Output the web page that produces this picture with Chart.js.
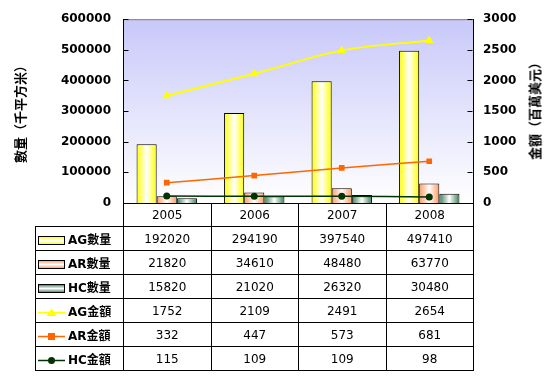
<!DOCTYPE html>
<html>
<head>
<meta charset="utf-8">
<script src="https://cdn.jsdelivr.net/npm/chart.js@4.4.1/dist/chart.umd.min.js"></script>
<style>
  body { margin: 0; background: #fff; }
  #wrap { position: relative; width: 548px; height: 377px; overflow: hidden; }
  #rightTitle {
    position: absolute; left: 534px; top: 108px; white-space: nowrap;
    transform: translate(-50%, -50%) rotate(-90deg);
    font: bold 13px "Noto Sans CJK TC", "DejaVu Sans", sans-serif; color: #000;
  }
  #tbl {
    position: absolute; border-collapse: collapse; table-layout: fixed;
    font-family: "DejaVu Sans", "Noto Sans CJK TC", sans-serif; font-size: 12px; color: #000;
  }
  #tbl td { border: 1px solid #000; padding: 0; text-align: center; vertical-align: middle; white-space: nowrap; }
  #tbl td.lab { text-align: left; padding-left: 2px; font-weight: bold; }
  #tbl td.lab svg { vertical-align: middle; margin-right: 3px; }
  #tbl td.corner { border-top: none; border-left: none; }
</style>
</head>
<body>
<div id="wrap">
  <canvas id="grafico" width="548" height="377"></canvas>
  <div id="rightTitle">金額（百萬美元）</div>
  <table id="tbl"></table>
</div>
<script>
const categorias = ['2005', '2006', '2007', '2008'];

const agCantidad = [192020, 294190, 397540, 497410];
const arCantidad = [21820, 34610, 48480, 63770];
const hcCantidad = [15820, 21020, 26320, 30480];

const agMonto = [1752, 2109, 2491, 2654];
const arMonto = [332, 447, 573, 681];
const hcMonto = [115, 109, 109, 98];

const CAT_PCT = 0.69;

// relleno con degradado horizontal, blanco en el centro de cada barra
const rellenoBarra = (color) => (ctx) => {
  const chart = ctx.chart;
  const x = chart.scales.x;
  if (!x || ctx.type !== 'data') return color;
  const grupo = (x.width / categorias.length) * CAT_PCT;
  const ancho = grupo / 3;
  const izq = x.getPixelForValue(ctx.dataIndex) - grupo / 2 + ancho * ctx.datasetIndex;
  if (!Number.isFinite(izq) || !Number.isFinite(ancho) || ancho <= 0) return color;
  const g = chart.ctx.createLinearGradient(izq, 0, izq + ancho, 0);
  g.addColorStop(0, color);
  g.addColorStop(0.5, '#ffffff');
  g.addColorStop(1, color);
  return g;
};

const fondoPlot = {
  id: 'fondoPlot',
  beforeDraw(chart) {
    const {ctx, chartArea: a} = chart;
    const g = ctx.createLinearGradient(0, a.top, 0, a.bottom);
    g.addColorStop(0, '#c8c8fa');
    g.addColorStop(1, '#ffffff');
    ctx.save();
    ctx.fillStyle = g;
    ctx.fillRect(a.left, a.top, a.right - a.left, a.bottom - a.top);
    ctx.strokeStyle = '#808080';
    ctx.lineWidth = 1;
    ctx.beginPath();
    ctx.moveTo(a.left, a.top + 0.5);
    ctx.lineTo(a.right, a.top + 0.5);
    ctx.stroke();
    ctx.restore();
  },
  afterDraw(chart) {
    // marcas cortas hacia adentro en ambos ejes
    const ctx = chart.ctx;
    ctx.save();
    ctx.strokeStyle = '#000';
    ctx.lineWidth = 1;
    ctx.beginPath();
    for (const id of ['y', 'y1']) {
      const s = chart.scales[id];
      const x0 = id === 'y' ? s.right + 0.5 : s.left - 0.5;
      const dir = id === 'y' ? 1 : -1;
      s.ticks.forEach(t => {
        const py = Math.round(s.getPixelForValue(t.value)) + 0.5;
        ctx.moveTo(x0, py);
        ctx.lineTo(x0 + dir * 5, py);
      });
    }
    ctx.stroke();
    ctx.restore();
  }
};

Chart.defaults.color = '#000';
Chart.defaults.font.family = '"DejaVu Sans", "Noto Sans CJK TC", sans-serif';

const datosBarra = (label, datos, color) => ({
  type: 'bar', label, data: datos, yAxisID: 'y', order: 1,
  backgroundColor: rellenoBarra(color), borderColor: '#000', borderWidth: 1,
  categoryPercentage: CAT_PCT, barPercentage: 1
});

const datosLinea = (label, datos, color, estilo, radio, grosor) => ({
  type: 'line', label, data: datos, yAxisID: 'y1', order: 0,
  borderColor: color, backgroundColor: color, borderWidth: grosor,
  pointStyle: estilo, pointRadius: radio, pointBorderWidth: 0, tension: 0.3
});

const config = {
  data: {
    labels: categorias,
    datasets: [
      datosBarra('AG數量', agCantidad, '#ffff00'),
      datosBarra('AR數量', arCantidad, '#ff9960'),
      datosBarra('HC數量', hcCantidad, '#3c7c5c'),
      datosLinea('AG金額', agMonto, '#ffff00', 'triangle', 5, 2),
      datosLinea('AR金額', arMonto, '#ff6600', 'rect', 4, 1.5),
      datosLinea('HC金額', hcMonto, '#003300', 'circle', 3.5, 1.5)
    ]
  },
  options: {
    responsive: false,
    animation: false,
    devicePixelRatio: 1,
    layout: { padding: { top: 13, bottom: 174, left: 0, right: 0 } },
    plugins: { legend: { display: false }, tooltip: { enabled: false } },
    scales: {
      x: { display: false, offset: true },
      y: {
        position: 'left', min: 0, max: 600000,
        ticks: { stepSize: 100000, padding: 12, callback: v => String(v), font: { size: 12, weight: 'bold' } },
        grid: { display: false, drawTicks: false },
        border: { display: true, color: '#000' },
        title: {
          display: true, text: '數量（千平方米）', padding: { top: 12, bottom: 0 },
          font: { size: 13, weight: 'bold', family: '"Noto Sans CJK TC", sans-serif' }
        },
        afterFit: s => { s.width = 123; }
      },
      y1: {
        position: 'right', min: 0, max: 3000,
        ticks: { stepSize: 500, padding: 10, callback: v => String(v), font: { size: 12, weight: 'bold' } },
        grid: { display: false, drawTicks: false },
        border: { display: true, color: '#000' },
        afterFit: s => { s.width = 75; }
      }
    }
  },
  plugins: [fondoPlot]
};

const grafico = new Chart(document.getElementById('grafico'), config);
grafico.update('none');

// tabla de datos bajo el gráfico
const icono = (tipo, color) => {
  if (tipo === 'bar') {
    return `<svg width="27" height="9"><defs><linearGradient id="g${color.slice(1)}" x1="0" y1="0" x2="0" y2="1">
      <stop offset="0" stop-color="${color}"/><stop offset="0.5" stop-color="#fff"/><stop offset="1" stop-color="${color}"/></linearGradient></defs>
      <rect x="0.5" y="0.5" width="26" height="8" fill="url(#g${color.slice(1)})" stroke="#000"/></svg>`;
  }
  let marca = '';
  if (tipo === 'triangle') marca = `<polygon points="13.5,1.5 18.5,9 8.5,9" fill="${color}"/>`;
  if (tipo === 'rect') marca = `<rect x="10" y="2" width="7" height="7" fill="${color}"/>`;
  if (tipo === 'circle') marca = `<circle cx="13.5" cy="5.5" r="3.5" fill="${color}"/>`;
  return `<svg width="27" height="11"><line x1="0" y1="5.5" x2="27" y2="5.5" stroke="${color}" stroke-width="1.5"/>${marca}</svg>`;
};

const filas = [
  ['AG數量', agCantidad, icono('bar', '#ffff00')],
  ['AR數量', arCantidad, icono('bar', '#ff9960')],
  ['HC數量', hcCantidad, icono('bar', '#3c7c5c')],
  ['AG金額', agMonto, icono('triangle', '#ffff00')],
  ['AR金額', arMonto, icono('rect', '#ff6600')],
  ['HC金額', hcMonto, icono('circle', '#003300')]
];

const area = grafico.chartArea;
const colW = (area.right - area.left) / categorias.length;
const labW = 88;
const tabla = document.getElementById('tbl');
tabla.style.left = (area.left - labW) + 'px';
tabla.style.top = area.bottom + 'px';
tabla.style.width = (labW + colW * categorias.length) + 'px';

let html = `<colgroup><col style="width:${labW}px">` +
  categorias.map(() => `<col style="width:${colW}px">`).join('') + '</colgroup>';
html += `<tr style="height:23px"><td class="corner"></td>` +
  categorias.map(c => `<td>${c}</td>`).join('') + '</tr>';
filas.forEach(([nombre, valores, ic]) => {
  html += `<tr style="height:24px"><td class="lab">${ic}${nombre}</td>` +
    valores.map(v => `<td>${v}</td>`).join('') + '</tr>';
});
tabla.innerHTML = html;
</script>
</body>
</html>
